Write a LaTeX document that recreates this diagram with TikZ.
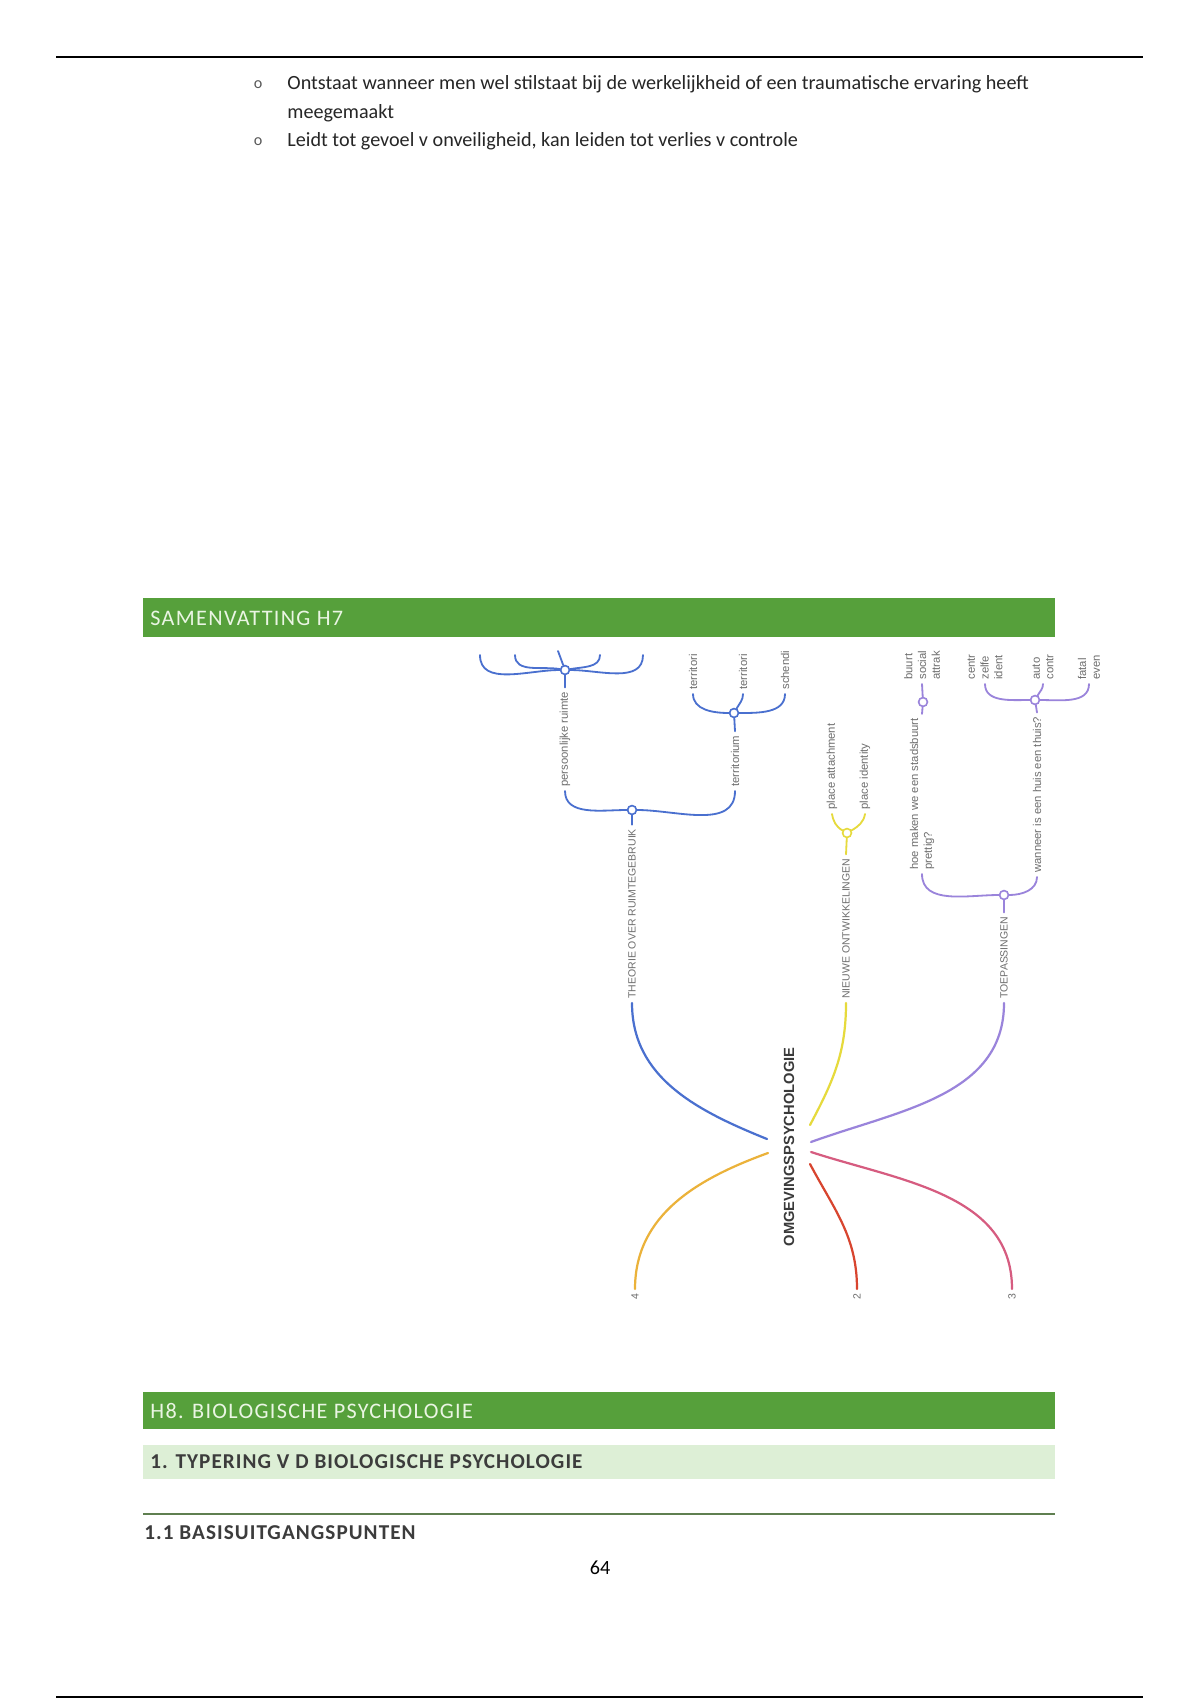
\documentclass[tikz,border=0pt]{standalone}
\usepackage{fontspec}
\setmainfont{Carlito}
\newfontfamily\mapfont{Liberation Sans}
\newfontfamily\headfont[LetterSpace=6]{Carlito}
\newfontfamily\subheadfont[LetterSpace=5]{Carlito}
\usetikzlibrary{positioning}

\definecolor{hdgreen}{HTML}{56A03B}
\definecolor{hdlight}{HTML}{DDEFD6}
\definecolor{hdtext}{HTML}{EAF5E3}
\definecolor{subtext}{HTML}{3C3C3C}
\definecolor{rulegreen}{HTML}{5F7F50}
\definecolor{mapgray}{HTML}{6E6E6E}
\definecolor{rootgray}{HTML}{3A3A3A}
\definecolor{mblue}{HTML}{4A70CF}
\definecolor{myellow}{HTML}{E6DA3C}
\definecolor{mpurple}{HTML}{9A84DB}
\definecolor{morange}{HTML}{EBB23A}
\definecolor{mred}{HTML}{D8452F}
\definecolor{mpink}{HTML}{D65C80}

\tikzset{
  lbl/.style={rotate=90,anchor=west,inner sep=2pt,text=mapgray,align=left,
    font=\mapfont\fontsize{5.6}{6.8}\selectfont},
  caplbl/.style={lbl,font=\mapfont\fontsize{5.2}{6.2}\selectfont},
  hub/.style={circle,draw,fill=white,line width=0.8pt,minimum size=4.4pt,inner sep=0pt},
  branch/.style={line width=1.1pt,line cap=round},
  brace/.style={line width=0.9pt,line cap=round},
  bodytext/.style={anchor=west,inner sep=0pt,text=black!85,font=\fontsize{10}{12}\selectfont},
  bulletmark/.style={inner sep=0pt,text=black!65,font=\fontsize{8}{8}\selectfont},
  headtext/.style={anchor=west,inner sep=0pt,text=hdtext,font=\headfont\fontsize{11}{13}\selectfont},
  subtitle/.style={anchor=west,inner sep=0pt,text=subtext,font=\subheadfont\bfseries\fontsize{10.5}{12}\selectfont},
}

\begin{document}
\begin{tikzpicture}[x=0.496pt,y=0.496pt]
% Page
\useasboundingbox (0,0) rectangle (1200,-1700);
\fill[white] (0,0) rectangle (1200,-1700);

% Rules
\draw[line width=1.1pt] (56,-57) -- (1143,-57);
\draw[line width=1.1pt] (56,-1697) -- (1143,-1697);

% Bullets
\node[bodytext] (line1) at (287,-84) {Ontstaat wanneer men wel stilstaat bij de werkelijkheid of een traumatische ervaring heeft};
\node[bodytext] (line2) at (287,-113) {meegemaakt};
\node[bodytext] (line3) at (287,-141) {Leidt tot gevoel v onveiligheid, kan leiden tot verlies v controle};
\node[bulletmark] (dot1) at (258,-85) {o};
\node[bulletmark] (dot3) at (258,-142) {o};

% Heading H7
\fill[hdgreen] (143,-598) rectangle (1055,-637);
\node[headtext] (h7) at (150,-618) {SAMENVATTING H7};

% Mind map: root and main branches
\node[rotate=90,inner sep=1pt,text=rootgray,font=\mapfont\bfseries\fontsize{7.3}{8}\selectfont] (root) at (789,-1147) {OMGEVINGSPSYCHOLOGIE};
\coordinate (r1) at (767,-1139);
\coordinate (r2) at (810,-1125);
\coordinate (r3) at (811,-1142);
\coordinate (r4) at (768,-1153);
\coordinate (r5) at (810,-1164);
\coordinate (r6) at (811,-1152);

\node[caplbl] (theorie) at (632,-1003) {THEORIE OVER RUIMTEGEBRUIK};
\node[caplbl] (nieuwe) at (846,-1003) {NIEUWE ONTWIKKELINGEN};
\node[caplbl] (toepas) at (1004,-1003) {TOEPASSINGEN};
\node[caplbl,anchor=east] (n4) at (635,-1289) {4};
\node[caplbl,anchor=east] (n2) at (857,-1289) {2};
\node[caplbl,anchor=east] (n3) at (1012,-1289) {3};

\draw[branch,mblue] (r1) to[out=158,in=-90] (theorie.west);
\draw[branch,myellow] (r2) to[out=62,in=-90] (nieuwe.west);
\draw[branch,mpurple] (r3) to[out=20,in=-90] (toepas.west);
\draw[branch,morange] (r4) to[out=200,in=90] (n4.east);
\draw[branch,mred] (r5) to[out=-62,in=90] (n2.east);
\draw[branch,mpink] (r6) to[out=-18,in=90] (n3.east);

% Theorie over ruimtegebruik
\node[hub,draw=mblue] (htheorie) at (632,-810) {};
\node[lbl] (pruimte) at (565,-791) {persoonlijke ruimte};
\node[lbl] (terr) at (735,-791) {territorium};
\draw[brace,mblue] (htheorie) -- (theorie.east);
\draw[brace,mblue] (pruimte.west) to[out=-90,in=180] (htheorie);
\draw[brace,mblue] (terr.west) to[out=-90,in=0] (htheorie);

\node[hub,draw=mblue] (hpruimte) at (565,-670) {};
\coordinate (pr1) at (480,-655);
\coordinate (pr2) at (515,-655);
\coordinate (pr3) at (558,-651);
\coordinate (pr4) at (600,-655);
\coordinate (pr5) at (643,-655);
\draw[brace,mblue] (hpruimte) -- (pruimte.east);
\draw[brace,mblue] (pr1) to[out=-90,in=180] (hpruimte);
\draw[brace,mblue] (pr2) to[out=-90,in=170] (hpruimte);
\draw[brace,mblue] (pr3) -- (hpruimte);
\draw[brace,mblue] (pr4) to[out=-90,in=10] (hpruimte);
\draw[brace,mblue] (pr5) to[out=-90,in=0] (hpruimte);

\node[hub,draw=mblue] (hterr) at (734,-713) {};
\node[lbl] (terr1) at (693,-694) {territori};
\node[lbl] (terr2) at (743,-694) {territori};
\node[lbl] (terr3) at (785,-694) {schendi};
\draw[brace,mblue] (hterr) -- (terr.east);
\draw[brace,mblue] (terr1.west) to[out=-90,in=180] (hterr);
\draw[brace,mblue] (terr2.west) to[out=-90,in=60] (hterr);
\draw[brace,mblue] (terr3.west) to[out=-90,in=0] (hterr);

% Nieuwe ontwikkelingen
\node[hub,draw=myellow] (hnieuwe) at (847,-833) {};
\node[lbl] (attach) at (832,-814) {place attachment};
\node[lbl] (ident) at (865,-814) {place identity};
\draw[brace,myellow] (hnieuwe) -- (nieuwe.east);
\draw[brace,myellow] (attach.west) to[out=-80,in=150] (hnieuwe);
\draw[brace,myellow] (ident.west) to[out=-100,in=30] (hnieuwe);

% Toepassingen
\node[hub,draw=mpurple] (htoepas) at (1004,-895) {};
\node[lbl] (hoe) at (922,-874) {hoe maken we een stadsbuurt\\prettig?};
\node[lbl] (thuis) at (1037,-877) {wanneer is een huis een thuis?};
\draw[brace,mpurple] (htoepas) -- (toepas.east);
\draw[brace,mpurple] (hoe.west) to[out=-90,in=180] (htoepas);
\draw[brace,mpurple] (thuis.west) to[out=-90,in=0] (htoepas);

\node[hub,draw=mpurple] (hhoe) at (923,-702) {};
\node[lbl] (buurt) at (922,-684) {buurt\\social\\attrak};
\draw[brace,mpurple] (hhoe) -- (hoe.east);
\draw[brace,mpurple] (hhoe) -- (buurt.west);

\node[hub,draw=mpurple] (hthuis) at (1035,-700) {};
\node[lbl] (centr) at (985,-684) {centr\\zelfe\\ident};
\node[lbl] (auto) at (1043,-684) {auto\\contr};
\node[lbl] (fatal) at (1089,-684) {fatal\\even};
\draw[brace,mpurple] (hthuis) -- (thuis.east);
\draw[brace,mpurple] (centr.west) to[out=-90,in=180] (hthuis);
\draw[brace,mpurple] (auto.west) to[out=-90,in=60] (hthuis);
\draw[brace,mpurple] (fatal.west) to[out=-90,in=0] (hthuis);

% Heading H8
\fill[hdgreen] (143,-1392) rectangle (1055,-1429);
\node[headtext] (h8) at (150,-1411) {H8. BIOLOGISCHE PSYCHOLOGIE};
\fill[hdlight] (143,-1445) rectangle (1055,-1479);
\node[subtitle] (typering) at (150,-1462) {1. TYPERING V D BIOLOGISCHE PSYCHOLOGIE};
\draw[rulegreen,line width=1pt] (143,-1514) -- (1055,-1514);
\node[subtitle] (basis) at (144,-1533) {1.1 BASISUITGANGSPUNTEN};

% Page number
\node[inner sep=0pt,font=\fontsize{10}{12}\selectfont] (page) at (600,-1568) {64};
\end{tikzpicture}
\end{document}
